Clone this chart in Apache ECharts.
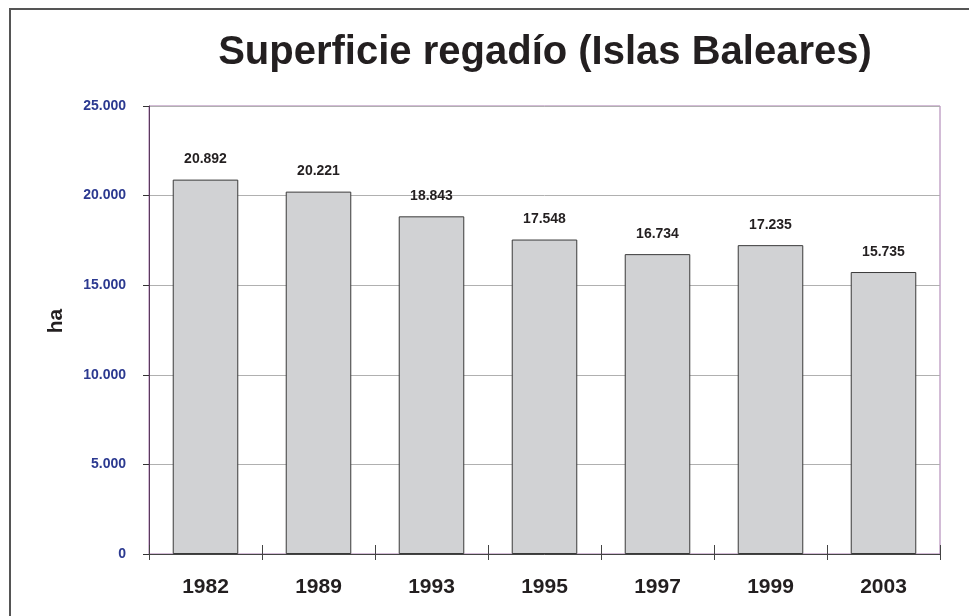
<!DOCTYPE html>
<html lang="es">
<head>
    <meta charset="UTF-8">
    <title>Superficie regadío</title>
    <script src="https://cdn.jsdelivr.net/npm/echarts@6/dist/echarts.min.js"></script>
</head>
<body style="margin:0;background:#fff">
    <div id="chart" style="width:969px;height:616px;"></div>
<script type="text/javascript">
    // datos
    var years = ['1982', '1989', '1993', '1995', '1997', '1999', '2003'];
    var hectareas = [20892, 20221, 18843, 17548, 16734, 17235, 15735];
    var yTicks = [0, 5000, 10000, 15000, 20000, 25000];

    // formato con punto de miles
    function miles(v) {
        return String(v).replace(/\B(?=(\d{3})+(?!\d))/g, '.');
    }

    var chart = echarts.init(document.getElementById('chart'));
    chart.setOption({
        animation: false,
        textStyle: { fontFamily: 'Liberation Sans, Arial, sans-serif' },
        graphic: [
            {
                type: 'rect',
                shape: { x: 10, y: 9, width: 1200, height: 1200 },
                style: { fill: 'none', stroke: '#555', lineWidth: 2 },
                silent: true
            },
            {
                type: 'text',
                x: 545, y: 53,
                style: {
                    text: 'Superficie regadío (Islas Baleares)',
                    fill: '#231f20',
                    font: 'bold 40px Liberation Sans, Arial, sans-serif',
                    align: 'center',
                    verticalAlign: 'middle'
                }
            },
            {
                type: 'text',
                x: 56, y: 321,
                rotation: Math.PI / 2,
                style: {
                    text: 'ha',
                    fill: '#231f20',
                    font: 'bold 21px Liberation Sans, Arial, sans-serif',
                    align: 'center',
                    verticalAlign: 'middle'
                }
            }
        ],
        grid: {
            left: 149, top: 106, right: 29, bottom: 62,
            show: true,
            borderColor: '#a679ad',
            borderWidth: 1
        },
        xAxis: [
            {
                type: 'category',
                data: years,
                axisLine: { lineStyle: { color: '#444', width: 1 } },
                axisTick: { show: true, length: 6, lineStyle: { color: '#444' } },
                axisLabel: { color: '#231f20', fontSize: 21, fontWeight: 'bold', margin: 23 }
            },
            {
                type: 'category',
                data: years,
                position: 'bottom',
                axisLine: { show: false },
                axisTick: { show: true, inside: true, length: 9, lineStyle: { color: '#444' } },
                axisLabel: { show: false }
            }
        ],
        yAxis: {
            type: 'value',
            min: yTicks[0],
            max: yTicks[yTicks.length - 1],
            interval: 5000,
            axisLine: { show: true, lineStyle: { color: '#5b3a5e' } },
            axisTick: { show: true, length: 6, lineStyle: { color: '#333' } },
            axisLabel: {
                color: '#2b3990', fontSize: 14, fontWeight: 'bold', margin: 23,
                formatter: function (v) { return miles(v); }
            },
            splitLine: { show: true, lineStyle: { color: '#b0b0b0', width: 1 } }
        },
        series: [{
            type: 'bar',
            data: hectareas,
            barCategoryGap: '42%',
            itemStyle: { color: '#d1d2d4', borderColor: '#3a3a3a', borderWidth: 1 },
            label: {
                show: true,
                position: 'top',
                distance: 13,
                color: '#231f20',
                fontSize: 14,
                fontWeight: 'bold',
                formatter: function (p) { return miles(p.value); }
            }
        }]
    });
</script>
</body>
</html>
